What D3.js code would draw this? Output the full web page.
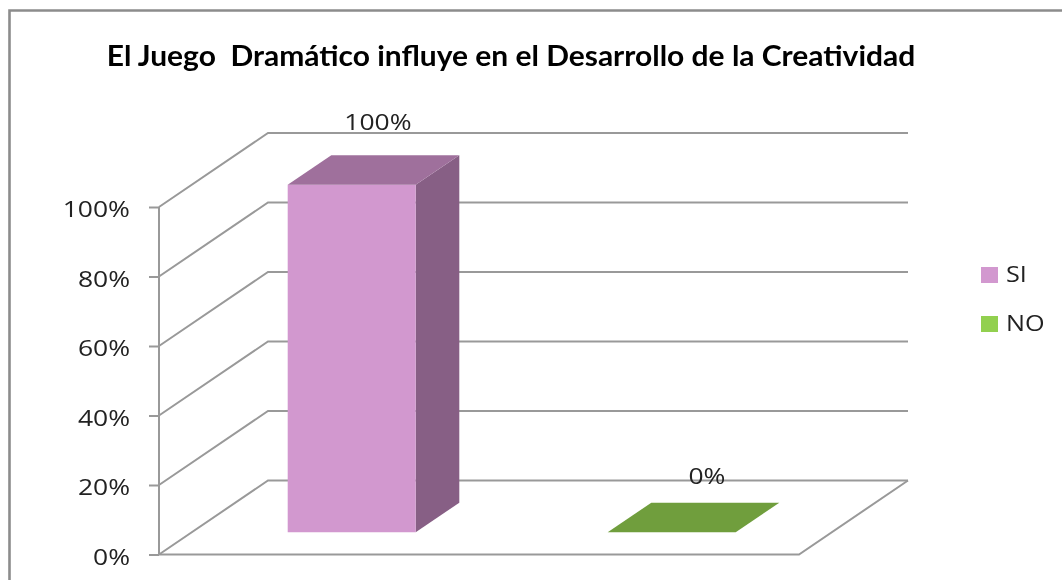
<!DOCTYPE html>
<html><head><meta charset="utf-8">
<script src="https://cdn.jsdelivr.net/npm/d3@7/dist/d3.min.js"></script>
<style>html,body{margin:0;padding:0;background:#fff}svg{display:block}</style>
</head><body><svg id="c" width="1062" height="580"></svg>
<script>
const titleText = "El Juego  Dramático influye en el Desarrollo de la Creatividad";
const seriesNames = ["SI", "NO"];
const seriesValues = [100, 0];
const tickValues = [0, 20, 40, 60, 80, 100];
const frontColors = ["#D298CF", "#92D050"];
const topColors = ["#9F709C", "#6F9E3D"];
const sideColors = ["#875E85", "#5F8A35"];

const svg = d3.select("#c");
const defs = svg.append("defs");
defs.append("filter").attr("id","soft").append("feGaussianBlur").attr("stdDeviation",0.5);
const root = svg.append("g").attr("filter","url(#soft)");

const y = d3.scaleLinear().domain([0,100]).range([554.5,207]);
const x = d3.scaleBand().domain(seriesNames).range([159,799]).paddingInner(0.6).paddingOuter(0.3);
const dz = d3.scaleLinear().domain([0,1]).range([0,109]);
const dzy = d3.scaleLinear().domain([0,1]).range([0,-74]);
const P = (px,v,d)=>[px+dz(d), y(v)+dzy(d)];
const poly = pts => "M"+pts.map(p=>p.join(",")).join("L")+"Z";
const grid = "#999999";
const gridW = 2;
const textColor = "#222222";
const stretch = 1.26;

function widen(sel, k){
  sel.each(function(){
    const w=this.getComputedTextLength();
    d3.select(this).attr("textLength",w*k).attr("lengthAdjust","spacingAndGlyphs");
  });
  return sel;
}

// frame
root.append("path").attr("d","M9.5,580V10.5H1062").attr("fill","none").attr("stroke","#8C8C8C").attr("stroke-width",2.6);

// gridlines
root.selectAll("path.g").data(tickValues).join("path").attr("class","g")
  .attr("d",t=>{
    const [x0,x1]=x.range();
    const a=P(x0,t,0),b=P(x0,t,1),c=P(x1,t,1);
    return "M"+a+"L"+b+"L"+c;
  }).attr("fill","none").attr("stroke",grid).attr("stroke-width",gridW);
// floor front and right edges
root.append("path").attr("d","M"+P(159,0,0)+"L"+P(799,0,0)+"L"+P(799,0,1))
  .attr("fill","none").attr("stroke",grid).attr("stroke-width",gridW);

// axis
const axis = d3.axisLeft(y).tickValues(tickValues).tickFormat(d=>d+"%").tickSize(10).tickPadding(19);
const ag = root.append("g").attr("transform","translate(159,0)").call(axis);
ag.selectAll("path,line").attr("stroke",grid).attr("stroke-width",gridW);
ag.select("path").attr("d","M0,"+y(100)+"V"+y(0));
ag.selectAll("text").attr("font-family","Open Sans").attr("font-size",21).attr("fill",textColor).attr("dy",9.5);
widen(ag.selectAll("text"), stretch);

// bars
const d0=0.3,d1=0.7;
const labelShift=[4.5,13.5], labelBaseline=[130,484];
seriesNames.forEach((n,i)=>{
  const v=seriesValues[i], l=x(n), r=l+x.bandwidth();
  const g=root.append("g");
  if(v>0){
    g.append("path").attr("d",poly([P(r,0,d0),P(r,0,d1),P(r,v,d1),P(r,v,d0)])).attr("fill",sideColors[i]);
    g.append("path").attr("d",poly([P(l,v,d0),P(r,v,d0),P(r,0,d0),P(l,0,d0)])).attr("fill",frontColors[i]);
  }
  g.append("path").attr("d",poly([P(l,v,d0),P(r,v,d0),P(r,v,d1),P(l,v,d1)])).attr("fill",topColors[i]);
  const c=P(l+x.bandwidth()/2,v,0.5);
  widen(root.append("text").attr("x",c[0]+labelShift[i]).attr("y",labelBaseline[i]).attr("text-anchor","middle")
    .attr("font-family","Open Sans").attr("font-size",21).attr("fill",textColor).text(v+"%"), stretch);
});

// legend
const ly=d3.scalePoint().domain(seriesNames).range([275,324]);
seriesNames.forEach((n,i)=>{
  root.append("rect").attr("x",981).attr("y",ly(n)-8).attr("width",17).attr("height",16).attr("fill",frontColors[i]);
  widen(root.append("text").attr("x",1006).attr("y",ly(n)+7).attr("font-family","Open Sans").attr("font-size",21).attr("fill",textColor).text(n), 1.2);
});

// title
widen(root.append("text").attr("x",511).attr("y",66).attr("text-anchor","middle").attr("xml:space","preserve").style("white-space","pre")
  .attr("font-family","Lato").attr("font-weight",700).attr("font-size",28).attr("fill","#000").text(titleText), 1.07);
</script></body></html>
